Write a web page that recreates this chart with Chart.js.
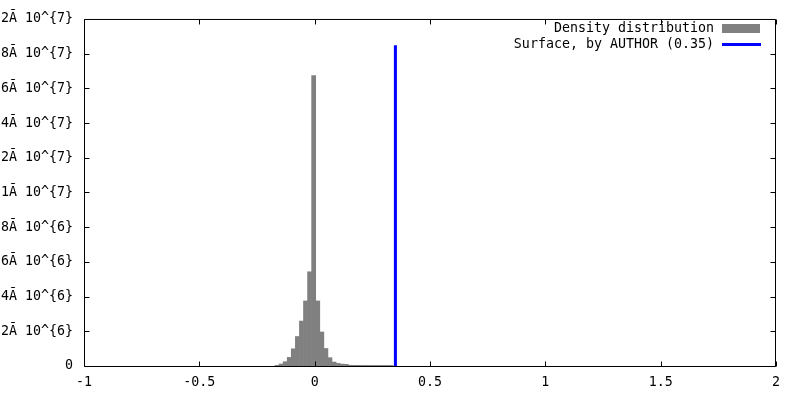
<!DOCTYPE html>
<html>
  <head>
    <meta charset="utf-8">
    <title>Density distribution</title>
    <style>
        body { margin: 0; background: #ffffff; }
        #wrap { position: relative; width: 800px; height: 400px; }
    </style>
    <script src="https://cdn.jsdelivr.net/npm/chart.js@4.4.1/dist/chart.umd.min.js"></script>
  </head>
  <body>
  <div id="wrap">
    <canvas id="myChart" width="800" height="400"></canvas>
  </div>

  <script type="text/javascript">
    // histogram bins (centre of each bin) and their counts
    var binCenters = [-0.1632, -0.1455, -0.1279, -0.1102, -0.0926, -0.0749, -0.0573, -0.0396, -0.0220, -0.0043,
                      0.0134, 0.0310, 0.0487, 0.0663, 0.0840, 0.1016, 0.1193, 0.1369, 0.1546, 0.1722,
                      0.1899, 0.2075, 0.2252, 0.2428, 0.2605, 0.2781, 0.2958, 0.3134, 0.3311];
    var binCounts = [38000, 114000, 248000, 495000, 990000, 1700000, 2590000, 3750000, 5430000, 16740000,
                     3750000, 1960000, 1010000, 480000, 229000, 152000, 110000, 95000, 45000, 40000,
                     38000, 36000, 35000, 35000, 34000, 34000, 33000, 33000, 33000];

    // vertical marker for the surface value
    var surfaceX = [0.35, 0.35];
    var surfaceY = [0, 18490000];

    var seriesLabels = ["Density distribution", "Surface, by AUTHOR (0.35)"];

    var xTickLabels = ["-1", "-0.5", "0", "0.5", "1", "1.5", "2"];
    var yTickLabels = ["0", "2Ã 10^{6}", "4Ã 10^{6}", "6Ã 10^{6}", "8Ã 10^{6}", "1Ã 10^{7}",
                       "1.2Ã 10^{7}", "1.4Ã 10^{7}", "1.6Ã 10^{7}", "1.8Ã 10^{7}", "2Ã 10^{7}"];

    var FONT = "'DejaVu Sans Mono', monospace";
    Chart.defaults.font.family = FONT;
    Chart.defaults.font.size = 13.3;
    Chart.defaults.color = '#000000';

    // gnuplot style frame + inward ticks on all four sides, and the key
    var framePlugin = {
      id: 'frame',
      afterDraw: function (chart) {
        var ctx = chart.ctx;
        var a = chart.chartArea;
        var xs = chart.scales.x, ys = chart.scales.y;
        var L = a.left + 0.5, R = a.right - 0.5, T = a.top + 0.5, B = a.bottom + 0.5;
        var tic = 5;
        ctx.save();
        ctx.strokeStyle = '#000000';
        ctx.lineWidth = 1;
        ctx.beginPath();
        ctx.rect(L, T, R - L, B - T);
        xs.ticks.forEach(function (t) {
          var px = Math.round(xs.getPixelForValue(t.value)) + 0.5;
          ctx.moveTo(px, B); ctx.lineTo(px, B - tic);
          ctx.moveTo(px, T); ctx.lineTo(px, T + tic);
        });
        ys.ticks.forEach(function (t) {
          var py = Math.round(ys.getPixelForValue(t.value)) + 0.5;
          ctx.moveTo(L, py); ctx.lineTo(L + tic, py);
          ctx.moveTo(R, py); ctx.lineTo(R - tic, py);
        });
        ctx.stroke();

        // key
        ctx.font = '13.3px ' + FONT;
        ctx.fillStyle = '#000000';
        ctx.textAlign = 'right';
        ctx.textBaseline = 'middle';
        var ds = chart.data.datasets;
        ctx.fillText(ds[0].label, 714, 29);
        ctx.fillStyle = ds[0].backgroundColor;
        ctx.fillRect(722, 24, 38, 9);
        ctx.fillStyle = '#000000';
        ctx.fillText(ds[1].label, 714, 45);
        ctx.strokeStyle = ds[1].borderColor;
        ctx.lineWidth = 3;
        ctx.beginPath();
        ctx.moveTo(722, 44.5); ctx.lineTo(761, 44.5);
        ctx.stroke();
        ctx.restore();
      }
    };

    var ctx = document.getElementById('myChart').getContext('2d');
    var chart = new Chart(ctx, {
        type: 'bar',
        data: {
            datasets: [{
                  type: 'bar',
                  label: seriesLabels[0],
                  data: binCenters.map(function (c, i) { return { x: c, y: binCounts[i] }; }),
                  backgroundColor: '#808080',
                  borderWidth: 0,
                  barPercentage: 1,
                  categoryPercentage: 1,
                  order: 2
            }, {
                  type: 'line',
                  label: seriesLabels[1],
                  data: surfaceX.map(function (x, i) { return { x: x, y: surfaceY[i] }; }),
                  borderColor: '#0000ff',
                  backgroundColor: '#0000ff',
                  borderWidth: 3,
                  pointRadius: 0,
                  fill: false,
                  order: 1
            }]
        },
        options: {
            responsive: false,
            animation: false,
            layout: { padding: { left: 0, right: 24, top: 15, bottom: 0 } },
            plugins: {
                legend: { display: false },
                tooltip: { enabled: false }
            },
            scales: {
                x: {
                    type: 'linear',
                    min: -1, max: 2,
                    offset: false,
                    grid: { display: false, drawTicks: false, offset: false },
                    border: { display: false },
                    ticks: {
                        stepSize: 0.5,
                        maxRotation: 0,
                        autoSkip: false,
                        padding: 9,
                        callback: function (v, i) { return xTickLabels[i]; }
                    },
                    afterFit: function (s) { s.height = 34; }
                },
                y: {
                    min: 0, max: 20000000,
                    grid: { display: false, drawTicks: false },
                    border: { display: false },
                    ticks: {
                        stepSize: 2000000,
                        autoSkip: false,
                        padding: 11,
                        callback: function (v, i) { return yTickLabels[i]; }
                    },
                    afterFit: function (s) { s.width = 84; }
                }
            }
        },
        plugins: [framePlugin]
    });
  </script>
  </body>
</html>
